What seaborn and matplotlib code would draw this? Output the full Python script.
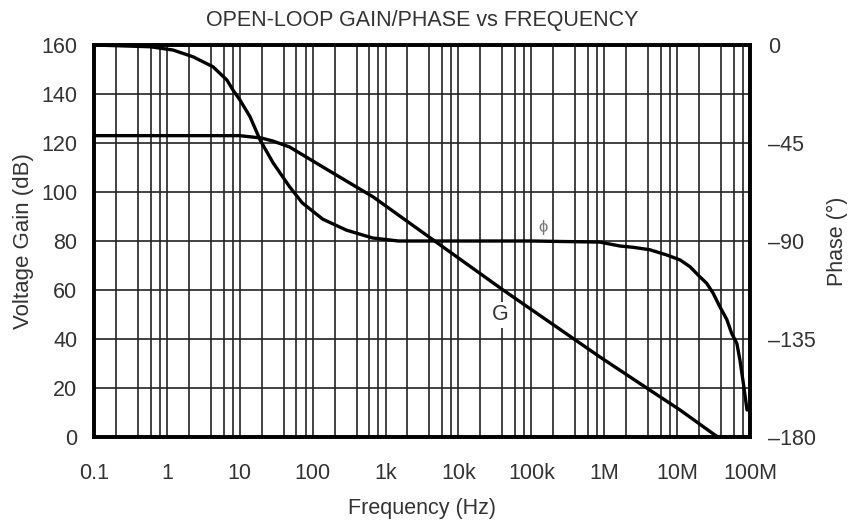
import matplotlib
matplotlib.use('Agg')
import matplotlib.pyplot as plt
import numpy as np
import pandas as pd
import seaborn as sns

# values
gain_freq = [0.1, 10, 20, 28.5, 48, 138, 675, 2900, 41000, 870000, 4.2e6, 11e6, 36e6]
gain_db = [123, 123, 122, 120.8, 118.4, 110.2, 98, 84.5, 60, 32.7, 19.2, 11, 0]

phase_freq = [0.1, 0.59, 1.21, 2.28, 4.29, 6.67, 8.07, 10.07, 13.8, 19, 28.5, 48, 72, 138,
              290, 660, 1500, 100000, 870000, 1.64e6, 2.5e6, 4.2e6, 7.18e6, 11e6, 15e6,
              20.6e6, 25.4e6, 31e6, 38.6e6, 48e6, 56e6, 66e6, 72.7e6, 80e6, 91e6]
phase_deg = [0, -0.8, -2.3, -5.4, -10, -16.1, -20.7, -25.3, -32.9, -43.6, -54, -65, -72.5, -80,
             -85, -88.6, -90, -90, -90.5, -92.3, -92.9, -94, -96.4, -98.7, -101.8,
             -106.5, -109.4, -113.8, -120.2, -126, -132.4, -137, -144.6, -154, -167.6]

xticks = [0.1, 1, 10, 100, 1e3, 1e4, 1e5, 1e6, 1e7, 1e8]
xticklabels = ['0.1', '1', '10', '100', '1k', '10k', '100k', '1M', '10M', '100M']
gain_ticks = [0, 20, 40, 60, 80, 100, 120, 140, 160]
phase_ticks = [0, -45, -90, -135, -180]
phase_ticklabels = ['0', '\u201345', '\u201390', '\u2013135', '\u2013180']

sns.set_theme(style='white')
plt.rcParams['font.family'] = ['Liberation Sans', 'DejaVu Sans']
txt = '#333333'
fs = 15.5

df_g = pd.DataFrame({'f': gain_freq, 'g': gain_db})
df_p = pd.DataFrame({'f': phase_freq, 'p': phase_deg})

fig = plt.figure(figsize=(8.51, 5.25), dpi=100)
ax = fig.add_axes([94/851, 1-437/525, (750-94)/851, (437-45)/525])
ax2 = ax.twinx()

sns.lineplot(data=df_g, x='f', y='g', ax=ax, color='black', linewidth=2.4)
sns.lineplot(data=df_p, x='f', y='p', ax=ax2, color='black', linewidth=2.4)

ax.set_xscale('log')
ax.set_xlim(0.1, 1e8)
ax.set_ylim(0, 160)
ax2.set_ylim(-180, 0)

# grid: decades plus 2,4,6,8
minors = [m * 10.0**e for e in range(-1, 8) for m in (2, 4, 6, 8)]
ax.set_xticks(xticks)
ax.set_xticklabels(xticklabels)
ax.set_xticks(minors, minor=True)
ax.set_yticks(gain_ticks)
ax2.set_yticks(phase_ticks)
ax2.set_yticklabels(phase_ticklabels)
ax.grid(True, which='both', axis='x', color='#222222', linewidth=1.2)
ax.grid(True, which='major', axis='y', color='#222222', linewidth=1.2)
ax.set_axisbelow(True)

ax.tick_params(axis='x', which='both', length=0, pad=19, labelsize=fs, labelcolor=txt)
ax.tick_params(axis='y', length=0, pad=12, labelsize=fs, labelcolor=txt)
ax2.tick_params(axis='y', length=0, pad=13, labelsize=fs, labelcolor=txt)

for a in (ax, ax2):
    for s in a.spines.values():
        s.set_color('black')
        s.set_linewidth(2.6)

ax.set_xlabel('Frequency (Hz)', fontsize=fs, color=txt, labelpad=10)
ax.set_ylabel('Voltage Gain (dB)', fontsize=16, color=txt, labelpad=5)
ax2.set_ylabel('Phase (\u00b0)', fontsize=fs, color=txt, labelpad=8)
ax.set_title('OPEN-LOOP GAIN/PHASE vs FREQUENCY', fontsize=fs, color=txt, pad=14)

ax.text(37000, 49.8, 'G', fontsize=fs, color=txt, ha='center', va='center',
        bbox=dict(facecolor='white', edgecolor='none', pad=1.5))
ax.text(145000, 85.7, '\u03d5', fontsize=12, color='#777777', ha='center', va='center')

fig.savefig('out.png', dpi=100)
